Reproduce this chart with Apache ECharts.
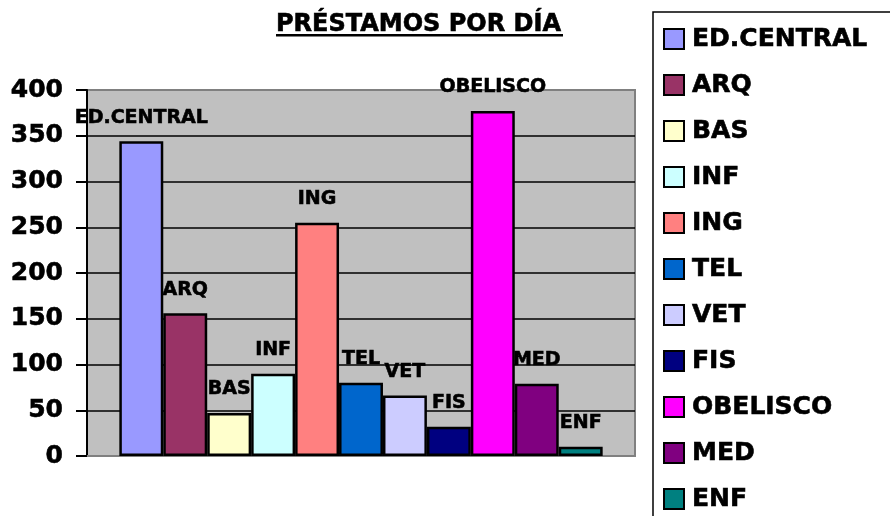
<!DOCTYPE html>
<html>
<head>
<meta charset="utf-8">
<script src="https://cdn.jsdelivr.net/npm/echarts@6/dist/echarts.min.js"></script>
<style>
html,body{margin:0;padding:0;background:#fff;}
#chart{width:890px;height:516px;}
</style>
</head>
<body>
<div id="chart"></div>
<script>
const titleText = 'PRÉSTAMOS POR DÍA';
const seriesNames = ['ED.CENTRAL','ARQ','BAS','INF','ING','TEL','VET','FIS','OBELISCO','MED','ENF'];
const seriesValues = [344, 156, 47, 90, 255, 80, 66, 32, 377, 79, 10];
const seriesColors = ['#9999FF','#993366','#FFFFCC','#CCFFFF','#FF8080','#0066CC','#CCCCFF','#000080','#FF00FF','#800080','#008080'];
const yMin = 0, yMax = 400, yStep = 50;

const FONT = 'DejaVu Sans';
const heavy = {textBorderColor: '#000', textBorderWidth: 0.6};
const chart = echarts.init(document.getElementById('chart'), null, {renderer:'canvas'});

const series = seriesNames.map((name, i) => ({
  name: name,
  type: 'bar',
  data: [seriesValues[i]],
  barGap: '0%',
  barCategoryGap: '11.8%',
  itemStyle: {color: seriesColors[i], borderColor: '#000', borderWidth: 2.5},
  label: Object.assign({
    show: true, position: 'top', distance: 14,
    formatter: name,
    color: '#000', fontFamily: FONT, fontWeight: 'bold', fontSize: 19
  }, heavy),
  emphasis: {disabled: true},
  animation: false
}));

chart.setOption({
  animation: false,
  backgroundColor: '#fff',
  title: {
    text: titleText,
    left: 276, top: 13, padding: 0,
    textStyle: Object.assign({fontFamily: FONT, fontWeight: 'bold', fontSize: 24, color: '#000'}, heavy)
  },
  graphic: [{
    type: 'rect', shape: {x: 276, y: 34, width: 287, height: 2.5},
    style: {fill: '#000'}, silent: true
  }],
  legend: {
    orient: 'vertical',
    left: 653, top: 12, height: 600,
    padding: [13, 60, 20, 10],
    borderColor: '#000', borderWidth: 1.5, borderRadius: 0,
    itemWidth: 20, itemHeight: 20, itemGap: 18,
    icon: 'rect',
    textStyle: Object.assign({fontFamily: FONT, fontWeight: 'bold', fontSize: 25, color: '#000', lineHeight: 28, padding: [0,0,0,3]}, heavy),
    data: seriesNames
  },
  grid: {
    left: 87, right: 255, top: 90, bottom: 60,
    show: true, backgroundColor: '#C0C0C0', borderColor: '#808080', borderWidth: 2
  },
  xAxis: {
    type: 'category', data: [''],
    axisLine: {show: true, lineStyle: {color: '#808080', width: 2}},
    axisTick: {show: false}, axisLabel: {show: false}, splitLine: {show: false}
  },
  yAxis: {
    type: 'value', min: yMin, max: yMax, interval: yStep,
    axisLine: {show: true, lineStyle: {color: '#000', width: 2}},
    axisTick: {show: true, length: 11, lineStyle: {color: '#000', width: 2}},
    axisLabel: Object.assign({margin: 24, fontFamily: FONT, fontWeight: 'bold', fontSize: 25, color: '#000'}, heavy),
    splitLine: {show: true, showMinLine: false, showMaxLine: false, lineStyle: {color: '#000', width: 1.5}}
  },
  series: series
});
</script>
</body>
</html>
